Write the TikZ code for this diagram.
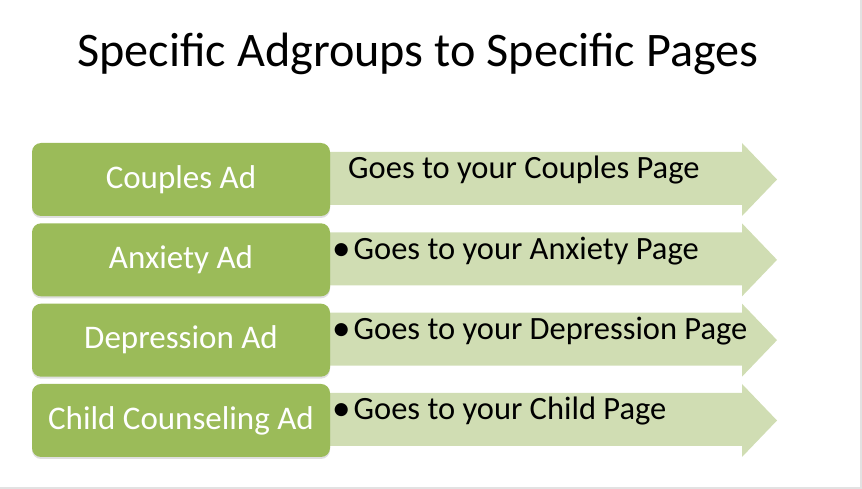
\documentclass[tikz,border=0pt]{standalone}
\usepackage{fontspec}
\setmainfont{Carlito}
\usetikzlibrary{calc,shadows}
\definecolor{adgreen}{HTML}{9BBB59}
\definecolor{pagegreen}{HTML}{D0DDB3}
\definecolor{edgegrey}{HTML}{E2E2E2}
\newcommand{\pagebullet}{\raisebox{-1pt}{\fontsize{37}{37}\selectfont\textbullet}\hspace{3pt}}

\begin{document}
\begin{tikzpicture}[x=1pt,y=-1pt,
    adbox/.style={fill=adgreen,rounded corners=9pt,minimum width=298pt,minimum height=73pt,
      text=white,font=\fontsize{33}{36}\selectfont,
      drop shadow={opacity=0.25,shadow xshift=0pt,shadow yshift=-2pt}},
    pagetext/.style={anchor=base west,inner sep=0pt,font=\fontsize{32.5}{36}\selectfont}]
    \useasboundingbox (0,0) rectangle (862,489);
    \draw[edgegrey,line width=1.5pt] (861,0) -- (861,488) -- (0,488);

    \node[anchor=base,font=\fontsize{48.2}{52}\selectfont] (title) at (418,67)
      {Specific Adgroups to Specific Pages};

    % one row per ad group: arrow first, box on top
    \foreach \i/\ad/\page/\px in {%
        0/Couples Ad/Goes to your Couples Page/348,
        1/Anxiety Ad/\pagebullet Goes to your Anxiety Page/332,
        2/Depression Ad/\pagebullet Goes to your Depression Page/332,
        3/Child Counseling Ad/\pagebullet Goes to your Child Page/332}{
      \pgfmathsetmacro{\t}{143+80.33*\i}
      \path (300,\t+9) coordinate (tail\i) (742,\t+9) coordinate (neck\i)
        (742,\t) coordinate (barb\i) (777,\t+36.5) coordinate (tip\i)
        (742,\t+73) coordinate (barbb\i) (742,\t+62) coordinate (neckb\i)
        (300,\t+62) coordinate (tailb\i);
      \fill[pagegreen] (tail\i)--(neck\i)--(barb\i)--(tip\i)--(barbb\i)--(neckb\i)--(tailb\i)--cycle;
      \node[adbox] (ad\i) at (181,\t+36.5) {\ad};
      \node[pagetext] (page\i) at (\px,\t+36) {\page};
    }
\end{tikzpicture}
\end{document}
